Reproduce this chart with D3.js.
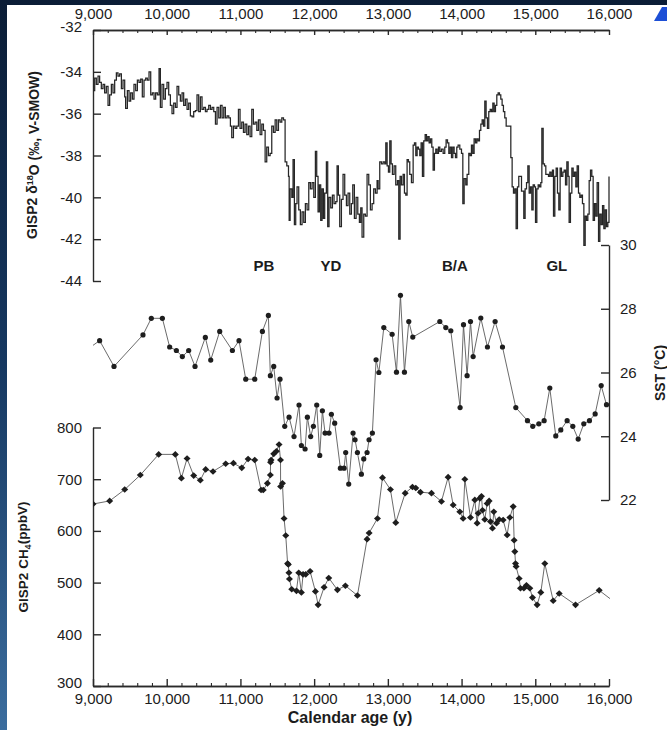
<!DOCTYPE html>
<html>
<head>
<meta charset="utf-8">
<script src="https://cdn.jsdelivr.net/npm/d3@7"></script>
<style>
  html, body { margin: 0; padding: 0; }
  body {
    width: 667px; height: 730px; overflow: hidden;
    background: linear-gradient(#0b1d36, #163861 50%, #3b6d9e);
  }
  svg { display: block; }
  text { font-family: "Liberation Sans", Arial, Helvetica, sans-serif; fill: #1c1c1c; }
  .axis path, .axis line { stroke: #2a2a2a; stroke-width: 1.4; fill: none; }
  .axis text { font-size: 15px; fill: #1c1c1c; }
  .minor line { stroke-width: 1.1; }
</style>
</head>
<body>
<svg id="chart" width="667" height="730"></svg>
<script>
// ---- Greenland GISP2 delta-18O record (age in years, permil), step series
const isoSeries = [
  [9000,-34.9],[9023,-34.3],[9045,-34.6],[9068,-34.2],[9090,-34.5],[9113,-34.8],[9136,-34.6],[9158,-35.0],
  [9181,-34.7],[9204,-35.6],[9226,-35.1],[9249,-34.6],[9271,-35.0],[9294,-34.4],[9317,-34.05],[9339,-34.2],
  [9362,-34.1],[9385,-34.8],[9407,-34.4],[9430,-35.2],[9443,-35.75],[9466,-34.9],[9489,-35.4],[9511,-35.0],
  [9534,-35.3],[9556,-34.6],[9579,-34.9],[9602,-34.4],[9624,-34.5],[9647,-34.35],[9669,-35.2],[9692,-34.4],
  [9715,-34.3],[9737,-34.4],[9760,-34.0],[9783,-35.1],[9805,-35.0],[9828,-35.3],[9850,-35.0],[9873,-35.1],
  [9896,-33.85],[9914,-35.7],[9936,-34.6],[9959,-35.3],[9982,-34.8],[10004,-34.5],[10027,-35.1],[10050,-35.6],
  [10072,-36.0],[10095,-35.5],[10118,-35.7],[10140,-34.7],[10163,-35.1],[10185,-35.4],[10208,-35.0],[10230,-35.6],
  [10253,-35.3],[10276,-35.8],[10298,-35.5],[10321,-36.1],[10344,-36.15],[10366,-35.9],[10389,-35.85],[10411,-35.1],
  [10434,-35.9],[10457,-35.2],[10479,-35.8],[10502,-35.7],[10525,-35.9],[10547,-35.8],[10570,-35.6],[10593,-35.8],
  [10615,-35.7],[10638,-35.9],[10661,-36.5],[10683,-35.7],[10706,-36.2],[10729,-35.6],[10751,-36.2],[10774,-35.7],
  [10796,-36.2],[10819,-36.1],[10842,-36.2],[10864,-36.6],[10882,-37.15],[10905,-36.6],[10928,-36.7],[10950,-36.6],
  [10973,-35.8],[10995,-36.7],[11018,-36.4],[11041,-36.9],[11063,-36.5],[11086,-37.0],[11109,-36.6],[11131,-37.1],
  [11154,-35.8],[11176,-36.5],[11199,-36.4],[11222,-36.8],[11244,-36.3],[11267,-37.0],[11290,-36.5],[11312,-36.8],
  [11335,-38.3],[11357,-37.6],[11380,-38.0],[11403,-37.9],[11425,-36.6],[11448,-36.9],[11471,-36.3],[11493,-36.8],
  [11516,-36.3],[11538,-36.4],[11561,-36.2],[11584,-36.3],[11606,-38.3],[11629,-38.5],[11652,-39.0],[11661,-41.1],
  [11674,-39.6],[11697,-40.0],[11714,-38.2],[11732,-41.3],[11750,-40.3],[11768,-39.5],[11791,-40.6],[11813,-41.3],
  [11836,-40.7],[11859,-41.2],[11881,-40.3],[11904,-40.6],[11927,-39.3],[11949,-39.6],[11972,-39.3],[11995,-40.0],
  [12017,-37.8],[12035,-39.0],[12053,-40.7],[12071,-39.4],[12089,-41.1],[12107,-39.6],[12125,-41.0],[12143,-39.8],
  [12166,-38.3],[12184,-41.4],[12202,-40.0],[12225,-40.5],[12248,-39.9],[12270,-40.3],[12293,-40.2],[12311,-38.5],
  [12329,-39.9],[12347,-41.4],[12370,-40.1],[12392,-38.9],[12415,-39.9],[12438,-40.4],[12460,-39.8],[12483,-40.8],
  [12505,-40.3],[12524,-39.4],[12546,-41.0],[12569,-40.0],[12592,-40.8],[12614,-41.2],[12632,-40.5],[12650,-41.9],
  [12673,-40.8],[12695,-40.9],[12718,-38.9],[12741,-39.4],[12763,-40.6],[12786,-40.3],[12808,-39.6],[12831,-39.8],
  [12854,-39.2],[12868,-39.6],[12890,-38.3],[12913,-38.4],[12936,-38.3],[12958,-38.4],[12972,-37.4],[12990,-38.5],
  [13008,-38.8],[13026,-37.3],[13044,-38.4],[13062,-38.9],[13085,-38.5],[13107,-39.4],[13130,-39.2],[13148,-42.0],
  [13166,-39.0],[13184,-39.4],[13207,-38.9],[13225,-39.8],[13243,-39.9],[13261,-38.2],[13279,-38.3],[13297,-38.9],
  [13320,-39.3],[13343,-37.5],[13361,-37.4],[13379,-38.0],[13397,-37.6],[13415,-37.7],[13433,-38.0],[13451,-37.4],
  [13469,-39.0],[13487,-37.3],[13506,-37.0],[13524,-37.3],[13542,-37.1],[13560,-37.4],[13578,-37.2],[13596,-37.6],
  [13614,-38.7],[13632,-37.9],[13650,-37.7],[13668,-37.9],[13687,-37.6],[13705,-37.8],[13727,-37.7],[13750,-37.9],
  [13772,-37.6],[13790,-37.25],[13809,-37.4],[13827,-37.9],[13845,-37.6],[13863,-38.1],[13881,-37.6],[13899,-37.9],
  [13917,-38.1],[13935,-37.6],[13953,-37.5],[13976,-37.7],[13999,-37.9],[14017,-40.3],[14035,-39.1],[14057,-39.4],
  [14075,-38.9],[14098,-37.9],[14116,-38.0],[14134,-37.5],[14152,-37.9],[14170,-37.2],[14189,-37.4],[14207,-37.2],
  [14225,-37.3],[14243,-36.8],[14261,-36.5],[14279,-36.3],[14297,-36.6],[14315,-35.4],[14333,-36.2],[14351,-36.7],
  [14369,-35.9],[14388,-35.8],[14406,-35.9],[14424,-35.5],[14442,-35.9],[14460,-35.6],[14478,-35.1],[14496,-35.0],
  [14514,-35.1],[14532,-35.3],[14550,-35.6],[14568,-35.9],[14586,-36.2],[14605,-36.6],[14627,-36.6],[14650,-36.6],
  [14668,-38.1],[14686,-39.5],[14704,-39.8],[14722,-39.6],[14740,-41.5],[14758,-39.5],[14776,-39.0],[14795,-39.0],
  [14813,-39.7],[14831,-39.7],[14844,-41.0],[14862,-39.6],[14881,-39.3],[14899,-38.5],[14917,-39.8],[14935,-39.5],
  [14953,-40.6],[14971,-39.4],[14989,-39.5],[15003,-41.2],[15021,-39.6],[15039,-39.4],[15057,-39.5],[15075,-39.3],
  [15089,-36.7],[15107,-38.4],[15125,-38.5],[15143,-38.9],[15161,-38.9],[15179,-39.0],[15197,-38.8],[15215,-39.0],
  [15233,-38.7],[15247,-40.9],[15265,-39.0],[15283,-38.6],[15301,-39.8],[15319,-40.6],[15337,-38.6],[15355,-39.0],
  [15374,-38.8],[15392,-38.7],[15410,-39.4],[15428,-38.3],[15446,-39.0],[15459,-41.2],[15477,-39.8],[15496,-38.6],
  [15514,-39.0],[15532,-38.8],[15550,-39.5],[15568,-38.5],[15586,-39.8],[15604,-40.0],[15622,-39.9],[15640,-40.3],
  [15659,-42.3],[15677,-40.9],[15695,-41.1],[15713,-40.8],[15731,-39.2],[15749,-38.7],[15767,-39.0],[15785,-41.1],
  [15803,-40.3],[15821,-40.9],[15839,-39.3],[15858,-42.1],[15876,-40.8],[15894,-41.3],[15912,-40.4],[15930,-41.5],
  [15948,-40.6],[15966,-41.4],[15984,-41.2],[16000,-39.0]
];

// ---- Sea-surface temperature (age in years, degrees C)
const sstSeries = [
  [8950,26.77],[9090,27.0],[9285,26.19],[9678,27.18],[9791,27.7],[9941,27.7],[10040,26.8],[10131,26.69],
  [10212,26.5],[10298,26.69],[10384,26.19],[10524,27.1],[10597,26.39],[10719,27.29],[10891,26.69],[10981,27.0],
  [11072,25.79],[11194,25.79],[11298,27.29],[11379,27.79],[11406,25.9],[11452,26.19],[11497,25.2],[11537,25.79],
  [11601,24.31],[11660,24.6],[11727,23.99],[11795,24.98],[11827,23.71],[11877,23.6],[11908,24.6],[11953,23.99],
  [11990,24.31],[12035,24.98],[12076,23.4],[12112,24.8],[12148,24.1],[12202,24.1],[12234,24.69],[12279,24.41],
  [12356,23.0],[12406,23.0],[12428,23.49],[12469,22.5],[12528,24.1],[12555,23.89],[12587,23.49],[12641,22.81],
  [12673,23.29],[12718,23.49],[12745,23.89],[12790,24.1],[12840,26.4],[12878,26.0],[12945,27.41],[13058,27.2],
  [13117,26.01],[13171,28.42],[13225,26.01],[13284,27.6],[13338,27.11],[13705,27.6],[13786,27.41],[13854,27.31],
  [13980,24.9],[14026,27.5],[14075,25.9],[14121,27.6],[14157,26.5],[14261,27.71],[14351,26.8],[14455,27.6],
  [14555,26.8],[14736,24.9],[14894,24.49],[14966,24.31],[15048,24.39],[15120,24.49],[15197,25.51],[15278,24.01],
  [15346,24.2],[15432,24.49],[15509,24.31],[15582,23.91],[15658,24.39],[15735,24.49],[15812,24.7],[15894,25.59],
  [15966,24.99]
];

// ---- GISP2 methane (age in years, ppbV)
const ch4Series = [
  [9000,652],[9226,658],[9430,680],[9642,708],[9891,748],[10117,748],[10199,702],[10276,740],
  [10366,707],[10456,698],[10529,719],[10628,715],[10800,730],[10905,731],[11018,722],[11104,739],
  [11194,737],[11280,679],[11310,679],[11366,692],[11406,708],[11409,733],[11416,737],[11452,749],
  [11488,754],[11524,767],[11544,737],[11545,686],[11570,692],[11592,624],[11615,591],[11640,537],
  [11650,535],[11658,519],[11665,507],[11696,487],[11760,484],[11791,519],[11827,481],[11850,516],
  [11886,516],[11945,522],[12017,483],[12054,457],[12135,491],[12198,509],[12316,486],[12424,494],
  [12587,475],[12718,584],[12746,596],[12859,624],[12927,703],[13035,680],[13107,616],[13235,673],
  [13334,685],[13379,683],[13442,675],[13592,673],[13727,657],[13818,704],[13886,650],[13976,637],
  [14021,624],[14044,700],[14121,626],[14180,660],[14211,615],[14225,634],[14248,663],[14270,667],
  [14284,640],[14315,622],[14347,653],[14374,658],[14392,618],[14419,605],[14437,637],[14474,615],
  [14510,622],[14564,621],[14618,592],[14655,626],[14700,647],[14713,582],[14722,560],[14732,537],
  [14740,531],[14781,508],[14799,489],[14845,489],[14880,495],[14926,489],[14962,471],[15025,457],
  [15075,481],[15129,537],[15243,465],[15324,479],[15546,457],[15867,485],[16050,465]
];

// ---- Axis ticks and climate-interval labels
const ageTicks = [9000, 10000, 11000, 12000, 13000, 14000, 15000, 16000];
const ageMinorTicks = d3.range(9200, 16000, 200).filter(d => d % 1000 !== 0);
const isoTicks = [-32, -34, -36, -38, -40, -42, -44];
const sstTicks = [22, 24, 26, 28, 30];
const ch4Ticks = [300, 400, 500, 600, 700, 800];
const periodNames = ["PB", "YD", "B/A", "GL"];
const periodAges = [11320, 12226, 13909, 15293];

const svg = d3.select("#chart");

// slide panel
svg.append("rect").attr("x", 7).attr("y", 5).attr("width", 660).attr("height", 725).attr("fill", "#fff");
svg.append("polygon").attr("points", "654,21 662,7 667,7 667,21").attr("fill", "#1d4fd6");

const x = d3.scaleLinear().domain([9000, 16000]).range([93, 609]);
const yIso = d3.scaleLinear().domain([-44, -32]).range([281, 30]);
const ySst = d3.scaleLinear().domain([22, 30]).range([500, 245]);
const yCh4 = d3.scaleLinear().domain([300, 800]).range([686, 427.5]);

const fmtAge = d3.format(",");
const fmtPlain = d => String(d);

svg.append("defs").append("clipPath").attr("id", "plotClip")
  .append("rect").attr("x", x(9000)).attr("y", 0).attr("width", x(16000) - x(9000) + 1).attr("height", 730);

// ---- top age axis
svg.append("g").attr("class", "axis minor").attr("transform", "translate(0,30)")
  .call(d3.axisTop(x).tickValues(ageMinorTicks).tickFormat(() => "").tickSizeInner(-3).tickSizeOuter(0));
svg.append("g").attr("class", "axis").attr("transform", "translate(0,30)")
  .call(d3.axisTop(x).tickValues(ageTicks).tickFormat(fmtAge).tickSizeInner(-5).tickSizeOuter(0).tickPadding(11.5));

// ---- bottom age axis
svg.append("g").attr("class", "axis minor").attr("transform", "translate(0,686)")
  .call(d3.axisBottom(x).tickValues(ageMinorTicks).tickFormat(() => "").tickSizeInner(-3).tickSizeOuter(0));
svg.append("g").attr("class", "axis").attr("transform", "translate(0,686)")
  .call(d3.axisBottom(x).tickValues(ageTicks).tickFormat(fmtAge).tickSizeInner(-7).tickSizeOuter(0).tickPadding(7));

// ---- delta-18O axis (left, upper)
const isoAxis = svg.append("g").attr("class", "axis").attr("transform", "translate(93,0)")
  .call(d3.axisLeft(yIso).tickValues(isoTicks).tickFormat(fmtPlain).tickSizeInner(-8).tickSizeOuter(0).tickPadding(11));
isoAxis.selectAll(".tick").filter(d => d === -32).select("text").attr("dy", "0.12em");

// ---- SST axis (right, middle)
svg.append("g").attr("class", "axis").attr("transform", "translate(609,0)")
  .call(d3.axisRight(ySst).tickValues(sstTicks).tickFormat(fmtPlain).tickSizeInner(-8).tickSizeOuter(0).tickPadding(11));

// ---- CH4 axis (left, lower)
const ch4Axis = svg.append("g").attr("class", "axis").attr("transform", "translate(93,0)")
  .call(d3.axisLeft(yCh4).tickValues(ch4Ticks).tickFormat(fmtPlain).tickSizeInner(-8).tickSizeOuter(0).tickPadding(11));
ch4Axis.selectAll(".tick").filter(d => d === 300).select("text").attr("dy", "0.12em");

// ---- delta-18O step curve
svg.append("path")
  .datum(isoSeries)
  .attr("fill", "none").attr("stroke", "#262626").attr("stroke-width", 1.25)
  .attr("d", d3.line().x(d => x(d[0])).y(d => yIso(d[1])).curve(d3.curveStepAfter));

const plot = svg.append("g").attr("clip-path", "url(#plotClip)");

// ---- SST line + dots
plot.append("path")
  .datum(sstSeries)
  .attr("fill", "none").attr("stroke", "#5a5a5a").attr("stroke-width", 0.9)
  .attr("d", d3.line().x(d => x(d[0])).y(d => ySst(d[1])));
plot.selectAll(".sst").data(sstSeries.filter(d => d[0] >= 9000)).join("circle")
  .attr("class", "sst")
  .attr("cx", d => x(d[0])).attr("cy", d => ySst(d[1])).attr("r", 2.6).attr("fill", "#1e1e1e");

// ---- CH4 line + diamonds
plot.append("path")
  .datum(ch4Series)
  .attr("fill", "none").attr("stroke", "#5a5a5a").attr("stroke-width", 0.9)
  .attr("d", d3.line().x(d => x(d[0])).y(d => yCh4(d[1])));
plot.selectAll(".ch4").data(ch4Series.filter(d => d[0] <= 16000)).join("path")
  .attr("class", "ch4")
  .attr("transform", d => `translate(${x(d[0])},${yCh4(d[1])})`)
  .attr("d", "M0,-3.3L3.5,0L0,3.3L-3.5,0Z")
  .attr("fill", "#1e1e1e");

// ---- interval labels
svg.selectAll(".period").data(periodNames).join("text")
  .attr("class", "period")
  .attr("x", (d, i) => x(periodAges[i])).attr("y", 271)
  .attr("text-anchor", "middle")
  .style("font-size", "15px").style("font-weight", "bold")
  .text(d => d);

// ---- axis titles
const isoTitle = svg.append("text")
  .attr("transform", "translate(37,155) rotate(-90)")
  .attr("text-anchor", "middle")
  .style("font-size", "14px").style("font-weight", "bold");
isoTitle.append("tspan").text("GISP2 \u03b4");
isoTitle.append("tspan").attr("dy", "-0.45em").style("font-size", "9px").text("18");
isoTitle.append("tspan").attr("dy", "0.45em").text("O (\u2030, V-SMOW)");

const ch4Title = svg.append("text")
  .attr("transform", "translate(28,557) rotate(-90)")
  .attr("text-anchor", "middle")
  .style("font-size", "13.5px").style("font-weight", "bold");
ch4Title.append("tspan").text("GISP2 CH");
ch4Title.append("tspan").attr("dy", "0.3em").style("font-size", "9px").text("4");
ch4Title.append("tspan").attr("dy", "-0.3em").text("(ppbV)");

svg.append("text")
  .attr("transform", "translate(665,373) rotate(-90)")
  .attr("text-anchor", "middle")
  .style("font-size", "14px").style("font-weight", "bold")
  .text("SST (\u00b0C)");

svg.append("text")
  .attr("x", 350).attr("y", 723)
  .attr("text-anchor", "middle")
  .style("font-size", "16px").style("font-weight", "bold")
  .text("Calendar age (y)");
</script>
</body>
</html>
